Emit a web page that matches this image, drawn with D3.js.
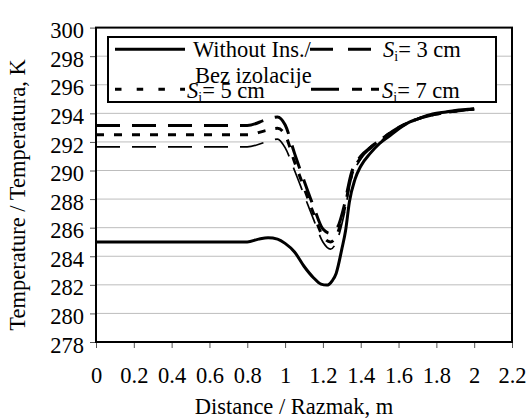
<!DOCTYPE html>
<html>
<head>
<meta charset="utf-8">
<script src="https://cdn.jsdelivr.net/npm/d3@7"></script>
<style>
  html, body { margin: 0; padding: 0; background: #fff; }
  svg text { font-family: "Liberation Serif", Tinos, "Times New Roman", "DejaVu Serif", serif; fill: #000; }
</style>
</head>
<body>
<svg id="chart" width="532" height="420"></svg>
<script>
// Temperature profiles along the wall, with and without insulation
const xTicks = [0, 0.2, 0.4, 0.6, 0.8, 1, 1.2, 1.4, 1.6, 1.8, 2, 2.2];
const yTicks = [278, 280, 282, 284, 286, 288, 290, 292, 294, 296, 298, 300];

const distNoIns = [0, 0.8, 0.86, 0.91, 0.96, 1.0, 1.05, 1.1, 1.15, 1.19, 1.22, 1.25, 1.27, 1.3, 1.32, 1.34, 1.37, 1.4, 1.45, 1.5, 1.55, 1.6, 1.66, 1.7, 1.78, 1.85, 1.9, 2.0];
const tempNoIns = [285, 285, 285.2, 285.3, 285.2, 284.9, 284.3, 283.3, 282.5, 282.05, 281.98, 282.3, 282.8, 284.5, 285.8, 287.8, 289.4, 290.3, 291.2, 291.9, 292.4, 292.9, 293.4, 293.6, 293.95, 294.1, 294.2, 294.3];

const distIns = [0, 0.8, 0.9, 0.96, 1.0, 1.05, 1.1, 1.15, 1.2, 1.24, 1.28, 1.31, 1.35, 1.4, 1.45, 1.5, 1.6, 1.7, 1.8, 1.9, 2.0];
const tempIns3 = [291.65, 291.65, 292.0, 292.2, 291.6, 290.0, 288.3, 286.6, 285.0, 284.5, 285.3, 286.8, 289.4, 290.8, 291.5, 292.0, 293.0, 293.6, 293.95, 294.15, 294.3];
const tempIns5 = [292.5, 292.5, 292.8, 292.95, 292.5, 290.6, 288.8, 287.0, 285.4, 285.0, 285.7, 287.1, 289.6, 290.9, 291.6, 292.1, 293.0, 293.6, 293.95, 294.15, 294.3];
const tempIns7 = [293.15, 293.15, 293.55, 293.75, 293.2, 291.2, 289.3, 287.5, 285.9, 285.6, 286.1, 287.4, 289.8, 291.0, 291.6, 292.1, 293.0, 293.6, 293.95, 294.15, 294.3];

const FONT = "'Liberation Serif', Tinos, 'Times New Roman', 'DejaVu Serif', serif";
const svg = d3.select("#chart");
const plotL = 96, plotR = 512, plotT = 27.6, plotB = 342;
const fs = 22.5;

const x = d3.scaleLinear().domain([0, 2.2]).range([plotL, plotR]);
const y = d3.scaleLinear().domain([278, 300]).range([plotB, plotT]);

// horizontal gridlines
svg.append("g").selectAll("line")
  .data(yTicks.filter(t => t > 278 && t < 300))
  .join("line")
  .attr("x1", plotL).attr("x2", plotR)
  .attr("y1", d => y(d)).attr("y2", d => y(d))
  .attr("stroke", "#bdbdbd").attr("stroke-width", 1);

// axes
const xAxis = svg.append("g")
  .attr("transform", `translate(0,${plotB})`)
  .call(d3.axisBottom(x).tickValues(xTicks).tickSize(6).tickPadding(19)
        .tickFormat(d => d3.format("~g")(d)));
xAxis.attr("font-family", FONT).attr("font-size", fs);
xAxis.select(".domain").remove();
xAxis.selectAll("line").attr("stroke", "#555");
xAxis.selectAll("text").attr("dy", "0.71em");

const yAxis = svg.append("g")
  .attr("transform", `translate(${plotL},0)`)
  .call(d3.axisLeft(y).tickValues(yTicks).tickSize(6).tickPadding(6));
yAxis.attr("font-family", FONT).attr("font-size", fs);
yAxis.select(".domain").remove();
yAxis.selectAll("line").attr("stroke", "#555");
yAxis.selectAll("text").attr("dy", "0.45em");

// series lines
const line = d3.line().curve(d3.curveMonotoneX);
const series = [
  { d: distIns, t: tempIns3, w: 1.7, dash: "24,12" },
  { d: distIns, t: tempIns5, w: 3, dash: "8,10" },
  { d: distIns, t: tempIns7, w: 3, dash: "24,12" },
  { d: distNoIns, t: tempNoIns, w: 3, dash: null }
];
svg.append("g").selectAll("path")
  .data(series)
  .join("path")
  .attr("d", s => line(s.d.map((v, i) => [x(v), y(s.t[i])])))
  .attr("fill", "none")
  .attr("stroke", "#000")
  .attr("stroke-width", s => s.w)
  .attr("stroke-dasharray", s => s.dash);

// plot frame
svg.append("rect")
  .attr("x", plotL).attr("y", plotT)
  .attr("width", plotR - plotL).attr("height", plotB - plotT)
  .attr("fill", "none").attr("stroke", "#000").attr("stroke-width", 2);

// axis titles
svg.append("text")
  .attr("x", (plotL + plotR) / 2 - 10).attr("y", 414)
  .attr("text-anchor", "middle").attr("font-size", fs).attr("font-family", FONT)
  .text("Distance / Razmak, m");
svg.append("text")
  .attr("transform", "translate(25,195) rotate(-90)")
  .attr("text-anchor", "middle").attr("font-size", fs).attr("font-family", FONT)
  .text("Temperature / Temperatura, K");

// legend
const lg = svg.append("g").attr("font-family", FONT).attr("font-size", fs);
lg.append("rect")
  .attr("x", 108).attr("y", 37).attr("width", 388).attr("height", 65)
  .attr("fill", "#fff").attr("stroke", "#000").attr("stroke-width", 2);

function sample(x1, x2, yy, w, dash) {
  lg.append("line").attr("x1", x1).attr("x2", x2).attr("y1", yy).attr("y2", yy)
    .attr("stroke", "#000").attr("stroke-width", w).attr("stroke-dasharray", dash);
}
function siLabel(xx, yy, rest) {
  const t = lg.append("text").attr("x", xx).attr("y", yy);
  t.append("tspan").attr("font-style", "italic").text("S");
  t.append("tspan").attr("font-size", 14).attr("dy", 4).text("i");
  t.append("tspan").attr("dy", -4).text(rest);
}

sample(115, 185, 49.3, 3, null);
lg.append("text").attr("x", 193).attr("y", 57).text("Without Ins./");
lg.append("text").attr("x", 195).attr("y", 83).text("Bez izolacije");

sample(310, 372, 49.3, 3, "23,15");
siLabel(383, 57, "= 3 cm");

sample(115, 185, 89.3, 3, "6.5,15.2");
siLabel(187, 98, "= 5 cm");

sample(311, 380, 89.3, 3, "28,13,10,9,8");
siLabel(382, 98, "= 7 cm");
</script>
</body>
</html>
